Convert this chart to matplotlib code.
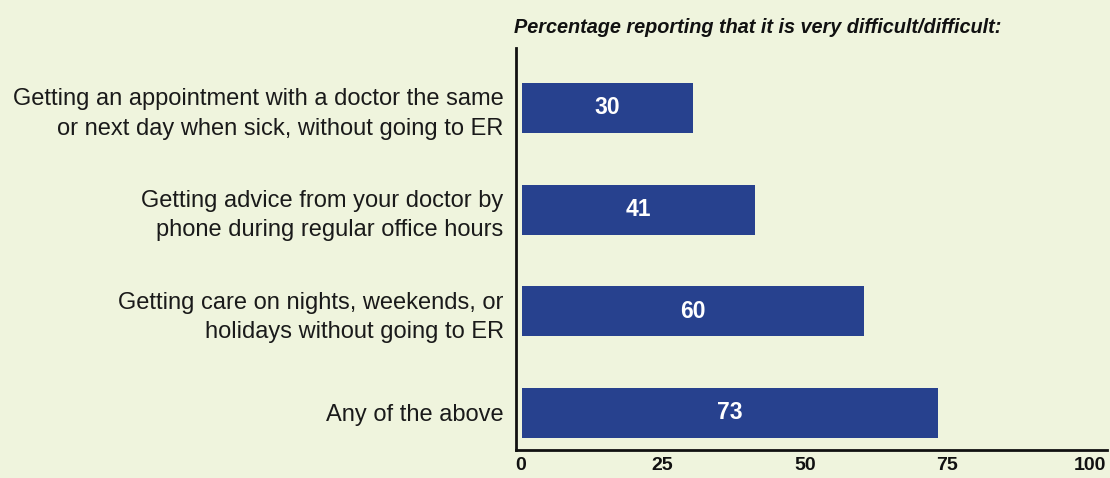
import matplotlib.pyplot as plt

# Datos
categorias = [
    'Getting an appointment with a doctor the same\nor next day when sick, without going to ER',
    'Getting advice from your doctor by\nphone during regular office hours',
    'Getting care on nights, weekends, or\nholidays without going to ER',
    'Any of the above',
]
valores = [30, 41, 60, 73]
ticks_x = [0, 25, 50, 75, 100]

fondo = '#EFF4DD'
azul = '#27418E'

plt.rcParams['font.family'] = ['Liberation Sans', 'DejaVu Sans']

fig = plt.figure(figsize=(11.1, 4.78), dpi=100, facecolor=fondo)
ax = fig.add_axes([0.465, 0.0586, 0.532, 0.841], facecolor=fondo)

# Posiciones de arriba hacia abajo
pos = list(range(len(categorias)))[::-1]
ax.barh(pos, valores, height=0.49, color=azul, left=0.3)

for p, v in zip(pos, valores):
    ax.text(0.3 + v / 2, p, str(v), color='white', fontsize=16.5, fontweight='heavy',
            ha='center', va='center')

ax.set_yticks(pos)
ax.set_yticklabels(categorias, fontsize=17, color='#1a1a1a', linespacing=1.42)
ax.set_xticks(ticks_x)
ax.set_xticklabels([str(t) for t in ticks_x], fontsize=14, fontweight='bold', color='#111111')
ax.tick_params(axis='x', length=0, pad=5)
ax.tick_params(axis='y', length=0, pad=9)

ax.set_xlim(-0.7, 103)
ax.set_ylim(-0.365, 3.59)

for s in ['top', 'right']:
    ax.spines[s].set_visible(False)
ax.spines['left'].set_linewidth(2)
ax.spines['bottom'].set_linewidth(2)
ax.spines['left'].set_color('#111111')
ax.spines['bottom'].set_color('#111111')

fig.text(0.463, 0.942, 'Percentage reporting that it is very difficult/difficult:',
         fontsize=14.3, fontweight='bold', style='italic', color='#111111',
         ha='left', va='center')

fig.savefig('out.png', dpi=100, facecolor=fondo)
